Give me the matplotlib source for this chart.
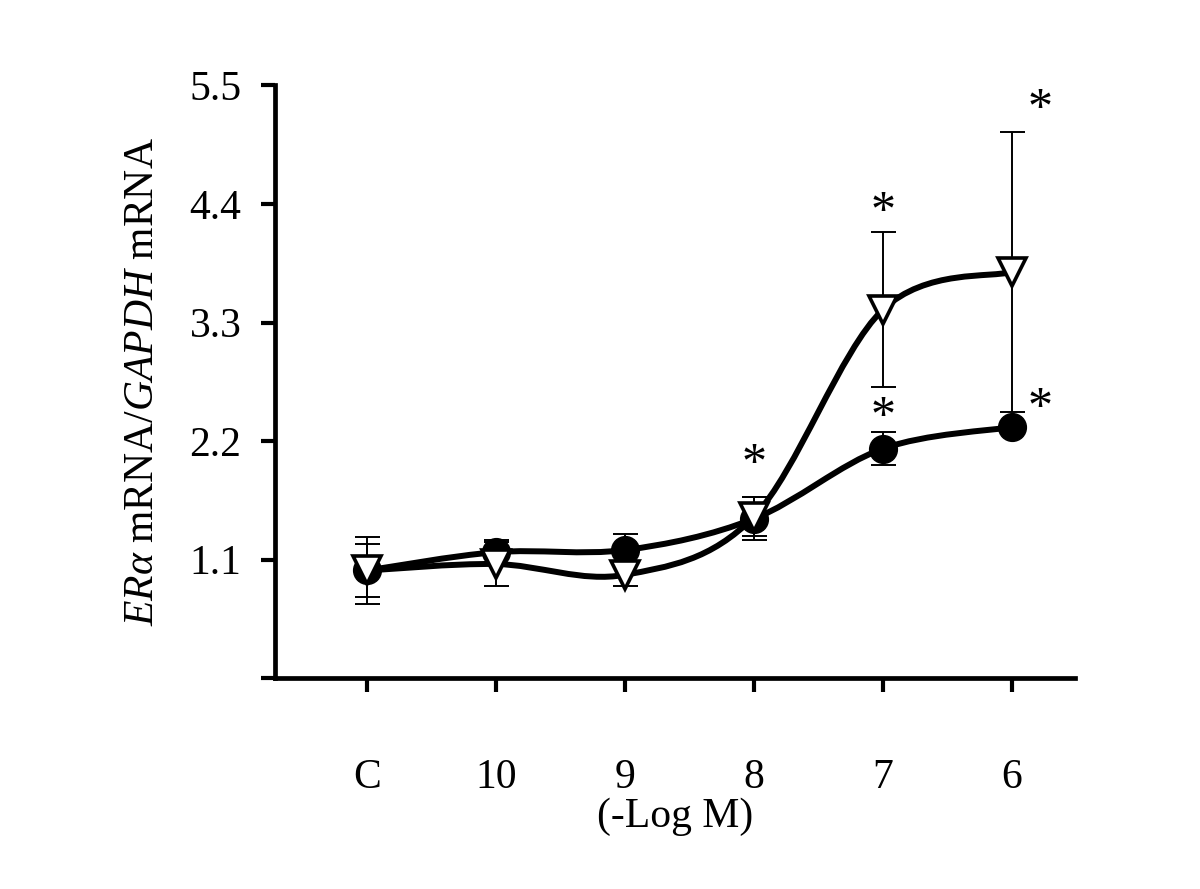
import numpy as np
import matplotlib
matplotlib.use("Agg")
import matplotlib.pyplot as plt
from matplotlib.path import Path
from matplotlib.patches import PathPatch

plt.rcParams['font.family'] = ['Liberation Serif', 'DejaVu Serif']
plt.rcParams['mathtext.fontset'] = 'custom'
plt.rcParams['mathtext.it'] = 'Liberation Serif:italic'
plt.rcParams['mathtext.rm'] = 'Liberation Serif'

# data
categories = ["C", "10", "9", "8", "7", "6"]
circle_mean = [1.00, 1.17, 1.19, 1.48, 2.13, 2.33]
circle_err = [0.25, 0.11, 0.15, 0.20, 0.15, 0.05]
tri_mean = [1.00, 1.06, 0.96, 1.50, 3.42, 3.77]
tri_err = [0.31, 0.20, 0.10, 0.18, 0.72, 1.30]

# significance stars (x position, y value)
star_x = [3.0, 4.0, 4.0, 5.22, 5.22]
star_y = [1.98, 2.42, 4.32, 5.27, 2.50]

yticks = [0, 1.1, 2.2, 3.3, 4.4, 5.5]
yticklabels = ["", "1.1", "2.2", "3.3", "4.4", "5.5"]


def smooth_path(x, y):
    # Excel-like smoothed line as cubic bezier segments
    pts = np.column_stack([x, y])
    n = len(pts)
    verts = [pts[0]]
    codes = [Path.MOVETO]
    for i in range(n - 1):
        p0 = pts[i - 1] if i > 0 else pts[i]
        p1 = pts[i]
        p2 = pts[i + 1]
        p3 = pts[i + 2] if i + 2 < n else pts[i + 1]
        c1 = p1 + (p2 - p0) / 6.0
        c2 = p2 - (p3 - p1) / 6.0
        verts += [c1, c2, p2]
        codes += [Path.CURVE4] * 3
    return Path(verts, codes)


x = np.arange(len(categories))

fig = plt.figure(figsize=(12, 8.89), dpi=100)
ax = fig.add_axes([0.229, 0.237, 0.667, 0.667])

lw = 4.3
ax.add_patch(PathPatch(smooth_path(x, circle_mean), fill=False, lw=lw, color='black',
                       capstyle='round', zorder=2))
ax.add_patch(PathPatch(smooth_path(x, tri_mean), fill=False, lw=lw, color='black',
                       capstyle='round', zorder=2))

ax.errorbar(x, circle_mean, yerr=circle_err, fmt='none', ecolor='black',
            elinewidth=1.4, capsize=9, capthick=1.4, zorder=1)
ax.errorbar(x, tri_mean, yerr=tri_err, fmt='none', ecolor='black',
            elinewidth=1.4, capsize=9, capthick=1.4, zorder=1)

ax.plot(x, circle_mean, linestyle='none', marker='o', markersize=20,
        markerfacecolor='black', markeredgecolor='black', zorder=3)
ax.plot(x, tri_mean, linestyle='none', marker='v', markersize=20,
        markerfacecolor='white', markeredgecolor='black', markeredgewidth=2.6, zorder=4)

for sx, sy in zip(star_x, star_y):
    ax.text(sx, sy, "*", fontsize=36, ha='center', va='center')

ax.set_xlim(-0.713, 5.49)
ax.set_ylim(0, 5.5)

ax.set_xticks(x)
ax.set_xticklabels(categories, fontsize=30)
ax.set_yticks(yticks)
ax.set_yticklabels(yticklabels, fontsize=30)

ax.tick_params(axis='x', direction='out', length=10, width=3, pad=48)
ax.tick_params(axis='y', direction='out', length=10, width=3, pad=14)

for side in ['top', 'right']:
    ax.spines[side].set_visible(False)
for side in ['left', 'bottom']:
    ax.spines[side].set_linewidth(3.4)

ax.set_xlabel("(-Log M)", fontsize=30, labelpad=0)
ax.set_ylabel(r"$ER\alpha$ mRNA/$GAPDH$ mRNA", fontsize=30, labelpad=20)

fig.savefig("out.png", dpi=100, facecolor='white')
